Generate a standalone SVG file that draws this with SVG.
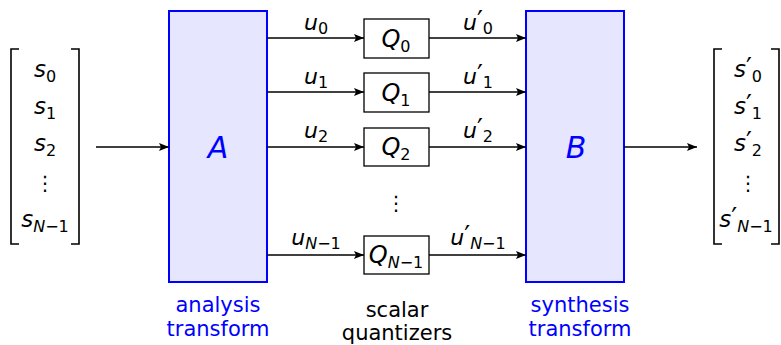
<svg xmlns="http://www.w3.org/2000/svg" width="781" height="345" viewBox="0 0 781 345">
<style>
text { font-family: "DejaVu Sans", "Liberation Sans", sans-serif; fill: #000; }
.m { font-style: italic; font-size: 23px; text-anchor: middle; }
.u { font-style: italic; font-size: 22px; text-anchor: middle; }
.qq { font-style: italic; font-size: 24px; text-anchor: middle; }
.sb { font-style: normal; font-size: 16px; }
.si { font-style: italic; font-size: 16px; }
.pr { font-style: normal; font-size: 26px; }
.big { font-style: italic; font-size: 30px; fill: #0000ff; text-anchor: middle; }
.lbl { font-size: 21px; text-anchor: middle; }
.blue { fill: #0000ff; }
.tb { fill: #e6e6ff; stroke: #0000ff; stroke-width: 2; }
.q { fill: #fff; stroke: #000; stroke-width: 1.3; }
.ln { stroke: #000; stroke-width: 1.3; fill: none; }
.br { stroke: #000; stroke-width: 1.6; fill: none; }
</style>
<defs>
<marker id="ah" viewBox="0 0 10 8" refX="10" refY="4" markerWidth="10" markerHeight="8" markerUnits="userSpaceOnUse" orient="auto">
<path d="M0,0 L10,4 L0,8 L2,4 Z" fill="#000"/>
</marker>
</defs>

<g id="input-vector">
<path class="br" d="M19,49 H11 V244 H19"/>
<path class="br" d="M71,49 H79 V244 H71"/>
<text class="m" x="45" y="77">s<tspan class="sb" dy="5">0</tspan></text>
<text class="m" x="45" y="114">s<tspan class="sb" dy="5">1</tspan></text>
<text class="m" x="45" y="151">s<tspan class="sb" dy="5">2</tspan></text>
<text x="45" y="190" font-size="20" text-anchor="middle">⋮</text>
<text class="m" x="45" y="227">s<tspan class="si" dy="5">N</tspan><tspan class="sb">−1</tspan></text>
</g>

<g id="analysis">
<rect class="tb" x="169" y="11" width="98" height="271"/>
<text class="big" x="218" y="158">A</text>
<text class="lbl blue" x="218" y="312">analysis</text>
<text class="lbl blue" x="218" y="336">transform</text>
</g>

<g id="q0">
<rect class="q" x="364" y="19" width="65" height="39"/>
<text class="qq" x="396" y="47">Q<tspan class="sb" dy="5">0</tspan></text>
</g>
<g id="q1">
<rect class="q" x="364" y="73" width="65" height="39"/>
<text class="qq" x="396" y="101">Q<tspan class="sb" dy="5">1</tspan></text>
</g>
<g id="q2">
<rect class="q" x="364" y="128" width="65" height="38"/>
<text class="qq" x="396" y="155">Q<tspan class="sb" dy="5">2</tspan></text>
</g>
<g id="qdots">
<text x="396" y="210" font-size="20" text-anchor="middle">⋮</text>
</g>
<g id="qN">
<rect class="q" x="364" y="236" width="65" height="38"/>
<text class="qq" x="396" y="263">Q<tspan class="si" dy="5">N</tspan><tspan class="sb">−1</tspan></text>
</g>
<g id="quantizers-label">
<text class="lbl" x="397" y="317">scalar</text>
<text class="lbl" x="397" y="340">quantizers</text>
</g>

<g id="synthesis">
<rect class="tb" x="526" y="11" width="98" height="271"/>
<text class="big" x="576" y="158">B</text>
<text class="lbl blue" x="580" y="312">synthesis</text>
<text class="lbl blue" x="580" y="336">transform</text>
</g>

<g id="output-vector">
<path class="br" d="M722,49 H714 V244 H722"/>
<path class="br" d="M771,49 H779 V244 H771"/>
<text class="m" x="748" y="77">s<tspan class="pr">′</tspan><tspan class="sb" dy="5">0</tspan></text>
<text class="m" x="748" y="114">s<tspan class="pr">′</tspan><tspan class="sb" dy="5">1</tspan></text>
<text class="m" x="748" y="151">s<tspan class="pr">′</tspan><tspan class="sb" dy="5">2</tspan></text>
<text x="748" y="190" font-size="20" text-anchor="middle">⋮</text>
<text class="m" x="746" y="227">s<tspan class="pr">′</tspan><tspan class="si" dy="5">N</tspan><tspan class="sb">−1</tspan></text>
</g>

<g id="connectors">
<line class="ln" x1="96" y1="147" x2="169" y2="147" marker-end="url(#ah)"/>
<line class="ln" x1="267" y1="38" x2="364" y2="38" marker-end="url(#ah)"/>
<line class="ln" x1="267" y1="92" x2="364" y2="92" marker-end="url(#ah)"/>
<line class="ln" x1="267" y1="147" x2="364" y2="147" marker-end="url(#ah)"/>
<line class="ln" x1="267" y1="255" x2="364" y2="255" marker-end="url(#ah)"/>
<line class="ln" x1="429" y1="38" x2="526" y2="38" marker-end="url(#ah)"/>
<line class="ln" x1="429" y1="92" x2="526" y2="92" marker-end="url(#ah)"/>
<line class="ln" x1="429" y1="147" x2="526" y2="147" marker-end="url(#ah)"/>
<line class="ln" x1="429" y1="255" x2="526" y2="255" marker-end="url(#ah)"/>
<line class="ln" x1="624" y1="147" x2="697" y2="147" marker-end="url(#ah)"/>
<text class="u" x="316" y="30">u<tspan class="sb" dy="4">0</tspan></text>
<text class="u" x="316" y="84">u<tspan class="sb" dy="4">1</tspan></text>
<text class="u" x="316" y="138">u<tspan class="sb" dy="4">2</tspan></text>
<text class="u" x="316" y="245">u<tspan class="si" dy="4">N</tspan><tspan class="sb">−1</tspan></text>
<text class="u" x="478" y="30">u<tspan class="pr">′</tspan><tspan class="sb" dy="4">0</tspan></text>
<text class="u" x="478" y="84">u<tspan class="pr">′</tspan><tspan class="sb" dy="4">1</tspan></text>
<text class="u" x="478" y="138">u<tspan class="pr">′</tspan><tspan class="sb" dy="4">2</tspan></text>
<text class="u" x="478" y="245">u<tspan class="pr">′</tspan><tspan class="si" dy="4">N</tspan><tspan class="sb">−1</tspan></text>
</g>
</svg>
